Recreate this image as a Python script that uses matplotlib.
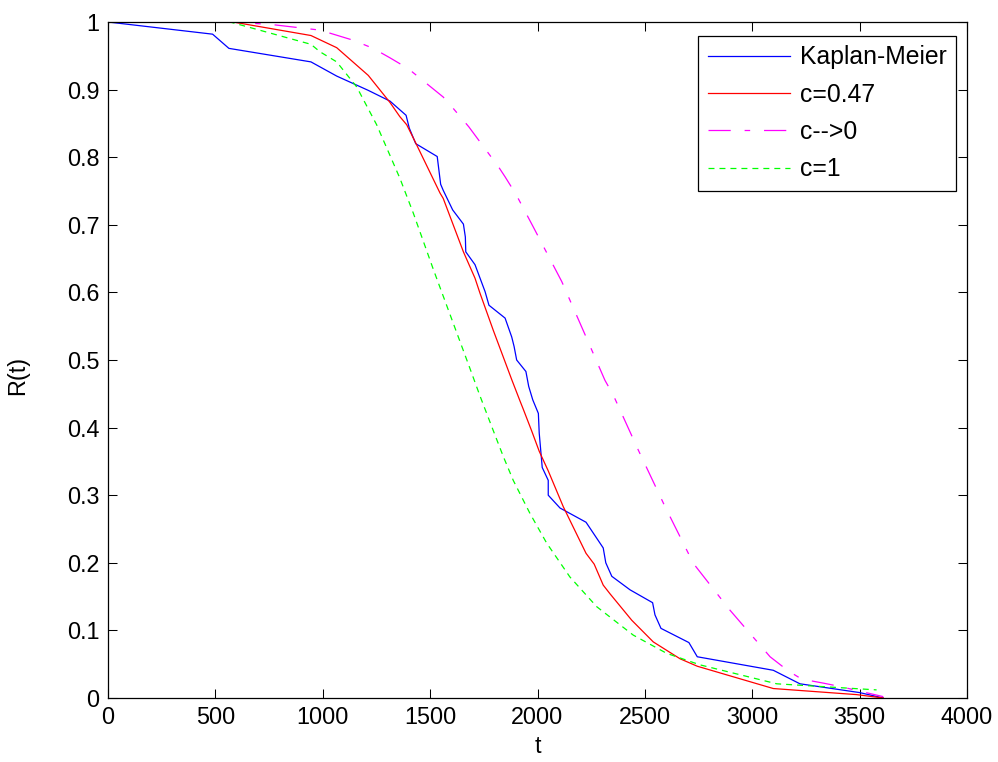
import matplotlib
matplotlib.use("Agg")
import matplotlib.pyplot as plt

plt.rcParams['font.family'] = ['Liberation Sans', 'DejaVu Sans']
plt.rcParams['lines.scale_dashes'] = False

# Kaplan-Meier estimate
km_t = [0, 487, 563, 945, 1065, 1211, 1313, 1388, 1403, 1433, 1533, 1549, 1561, 1605,
        1655, 1664, 1666, 1709, 1756, 1774, 1849, 1880, 1891, 1903, 1946, 1959, 1978,
        2004, 2008, 2022, 2050, 2050, 2105, 2226, 2306, 2318, 2346, 2431, 2536, 2547,
        2575, 2705, 2744, 3098, 3222, 3500, 3610]
km_r = [1.0, 0.982, 0.961, 0.941, 0.920, 0.899, 0.883, 0.862, 0.843, 0.820, 0.801, 0.760,
        0.751, 0.722, 0.701, 0.682, 0.660, 0.641, 0.601, 0.581, 0.562, 0.534, 0.520, 0.500,
        0.483, 0.461, 0.441, 0.421, 0.392, 0.341, 0.322, 0.300, 0.281, 0.260, 0.222, 0.200,
        0.180, 0.160, 0.141, 0.123, 0.103, 0.082, 0.061, 0.041, 0.021, 0.008, 0.0]

# c = 0.47
c047_t = [0, 582, 945, 1065, 1212, 1313, 1359, 1391, 1430, 1546, 1561, 1655, 1709, 1732,
          1794, 1880, 1919, 1934, 1973, 2008, 2050, 2120, 2226, 2264, 2306, 2338, 2439,
          2539, 2664, 2744, 3098, 3486, 3610]
c047_r = [1.0, 1.0, 0.980, 0.962, 0.921, 0.881, 0.860, 0.848, 0.823, 0.747, 0.739, 0.660,
          0.621, 0.599, 0.544, 0.471, 0.439, 0.427, 0.395, 0.365, 0.336, 0.283, 0.214,
          0.198, 0.167, 0.154, 0.115, 0.083, 0.058, 0.047, 0.014, 0.005, 0.0]

# c --> 0
c0_t = [0, 582, 769, 987, 1142, 1235, 1313, 1398, 1561, 1608, 1680, 1750, 1820, 1849,
        1900, 1980, 2113, 2229, 2314, 2353, 2469, 2594, 2726, 2896, 3083, 3168, 3230,
        3331, 3409, 3610]
c0_r = [1.0, 1.0, 0.996, 0.988, 0.973, 0.961, 0.947, 0.931, 0.889, 0.872, 0.845, 0.815,
        0.785, 0.771, 0.745, 0.697, 0.616, 0.532, 0.470, 0.448, 0.367, 0.283, 0.199,
        0.130, 0.061, 0.040, 0.028, 0.022, 0.017, 0.002]

# c = 1
c1_t = [0, 568, 945, 987, 1065, 1158, 1251, 1359, 1422, 1515, 1593, 1686, 1732, 1802,
        1841, 1887, 1965, 2043, 2151, 2276, 2446, 2602, 2757, 3114, 3579]
c1_r = [1.0, 1.0, 0.967, 0.956, 0.941, 0.904, 0.848, 0.769, 0.717, 0.634, 0.567, 0.487,
        0.447, 0.389, 0.357, 0.322, 0.273, 0.229, 0.179, 0.135, 0.093, 0.066, 0.049,
        0.021, 0.012]

x_ticks = [0, 500, 1000, 1500, 2000, 2500, 3000, 3500, 4000]
y_ticks = [0, 0.1, 0.2, 0.3, 0.4, 0.5, 0.6, 0.7, 0.8, 0.9, 1]
y_tick_labels = ['0', '0.1', '0.2', '0.3', '0.4', '0.5', '0.6', '0.7', '0.8', '0.9', '1']
labels = ['Kaplan-Meier', 'c=0.47', 'c-->0', 'c=1']

fig = plt.figure(figsize=(9.98, 7.62), dpi=100)
ax = fig.add_axes([108/998, 1-698/762, (967-108)/998, (698-22)/762])

lw = 0.9
ax.plot(km_t, km_r, color=(0, 0, 1), lw=lw, label=labels[0])
ax.plot(c047_t, c047_r, color=(1, 0, 0), lw=lw, label=labels[1])
ax.plot(c0_t, c0_r, color=(1, 0, 1), lw=lw, dashes=(16, 10, 4, 10), label=labels[2])
ax.plot(c1_t, c1_r, color=(0, 1, 0), lw=lw, dashes=(4.3, 3.6), label=labels[3])

ax.set_xlim(0, 4000)
ax.set_ylim(0, 1)
ax.set_xticks(x_ticks)
ax.set_xticklabels([str(v) for v in x_ticks])
ax.set_yticks(y_ticks)
ax.set_yticklabels(y_tick_labels)
ax.tick_params(direction='in', length=6.5, width=0.75, top=True, right=True,
               labelsize=16.8, pad=6)
for s in ax.spines.values():
    s.set_linewidth(0.9)

ax.set_xlabel('t', fontsize=16.8, labelpad=4)
ax.set_ylabel('R(t)', fontsize=16.8)
ax.yaxis.set_label_coords((29 - 108) / 859, (698 - 375) / 676)

leg = ax.legend(loc='upper right', bbox_to_anchor=(1 - 11/859, 1 - 14/676),
                borderaxespad=0, fontsize=17.8, frameon=True, fancybox=False,
                edgecolor='black', framealpha=1, handlelength=3.35,
                handletextpad=0.38, labelspacing=0.54, borderpad=0.38)
leg.get_frame().set_linewidth(0.9)

fig.savefig('out.png', dpi=100)
